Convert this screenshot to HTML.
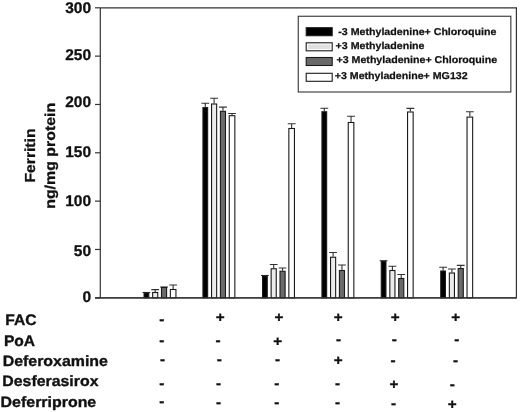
<!DOCTYPE html>
<html><head><meta charset="utf-8"><title>Ferritin chart</title>
<style>
html,body{margin:0;padding:0;background:#fff;}
body{width:520px;height:412px;overflow:hidden;}
svg{display:block;}
text{text-rendering:geometricPrecision;font-family:"Liberation Sans",Arial,Helvetica,sans-serif;font-weight:bold;fill:#111;stroke:#111;stroke-linejoin:round;}
</style></head><body>
<svg width="520" height="412" viewBox="0 0 520 412">
<rect x="0" y="0" width="520" height="412" fill="#fff"/>

<path d="M100.3 7.8 H516.4 V297.8 H95.3 M100.3 297.8 V7.8" fill="none" stroke="#333" stroke-width="1.2"/>
<line x1="95.0" y1="297.80" x2="100.3" y2="297.80" stroke="#333" stroke-width="1.2"/>
<text transform="translate(91.10,302.45) scale(1.0,1)" font-size="15.50" text-anchor="end" stroke-width="0.3">0</text>
<line x1="95.0" y1="249.47" x2="100.3" y2="249.47" stroke="#333" stroke-width="1.2"/>
<text transform="translate(91.10,256.15) scale(1.0,1)" font-size="15.50" text-anchor="end" stroke-width="0.3">50</text>
<line x1="95.0" y1="201.13" x2="100.3" y2="201.13" stroke="#333" stroke-width="1.2"/>
<text transform="translate(91.10,206.45) scale(1.0,1)" font-size="15.50" text-anchor="end" stroke-width="0.3">100</text>
<line x1="95.0" y1="152.80" x2="100.3" y2="152.80" stroke="#333" stroke-width="1.2"/>
<text transform="translate(91.10,157.15) scale(1.0,1)" font-size="15.50" text-anchor="end" stroke-width="0.3">150</text>
<line x1="95.0" y1="104.47" x2="100.3" y2="104.47" stroke="#333" stroke-width="1.2"/>
<text transform="translate(91.10,107.45) scale(1.0,1)" font-size="15.50" text-anchor="end" stroke-width="0.3">200</text>
<line x1="95.0" y1="56.13" x2="100.3" y2="56.13" stroke="#333" stroke-width="1.2"/>
<text transform="translate(91.10,60.15) scale(1.0,1)" font-size="15.50" text-anchor="end" stroke-width="0.3">250</text>
<line x1="95.0" y1="7.80" x2="100.3" y2="7.80" stroke="#333" stroke-width="1.2"/>
<text transform="translate(91.10,12.65) scale(1.0,1)" font-size="15.50" text-anchor="end" stroke-width="0.3">300</text>
<path d="M146.40 292.50 V292.50 M142.50 292.50 H150.30" stroke="#333" stroke-width="1.1" fill="none"/>
<rect x="144.05" y="293.00" width="4.70" height="4.80" fill="#000" stroke="#1a1a1a" stroke-width="1.1"/>
<path d="M155.20 292.00 V289.60 M151.30 289.60 H159.10" stroke="#333" stroke-width="1.1" fill="none"/>
<rect x="152.65" y="292.50" width="5.10" height="5.30" fill="#ececec" stroke="#1a1a1a" stroke-width="1.1"/>
<path d="M164.05 287.00 V287.00 M160.15 287.00 H167.95" stroke="#333" stroke-width="1.1" fill="none"/>
<rect x="161.50" y="287.50" width="5.10" height="10.30" fill="#6a6a6a" stroke="#1a1a1a" stroke-width="1.1"/>
<path d="M173.15 289.00 V285.00 M169.25 285.00 H177.05" stroke="#333" stroke-width="1.1" fill="none"/>
<rect x="170.35" y="289.50" width="5.60" height="8.30" fill="#fff" stroke="#1a1a1a" stroke-width="1.1"/>
<path d="M205.30 107.10 V103.30 M201.40 103.30 H209.20" stroke="#333" stroke-width="1.1" fill="none"/>
<rect x="202.95" y="107.60" width="4.70" height="190.20" fill="#000" stroke="#1a1a1a" stroke-width="1.1"/>
<path d="M214.10 103.50 V98.20 M210.20 98.20 H218.00" stroke="#333" stroke-width="1.1" fill="none"/>
<rect x="211.55" y="104.00" width="5.10" height="193.80" fill="#ececec" stroke="#1a1a1a" stroke-width="1.1"/>
<path d="M222.95 110.80 V107.10 M219.05 107.10 H226.85" stroke="#333" stroke-width="1.1" fill="none"/>
<rect x="220.40" y="111.30" width="5.10" height="186.50" fill="#6a6a6a" stroke="#1a1a1a" stroke-width="1.1"/>
<path d="M232.05 115.20 V113.50 M228.15 113.50 H235.95" stroke="#333" stroke-width="1.1" fill="none"/>
<rect x="229.25" y="115.70" width="5.60" height="182.10" fill="#fff" stroke="#1a1a1a" stroke-width="1.1"/>
<path d="M264.90 275.50 V275.50 M261.00 275.50 H268.80" stroke="#333" stroke-width="1.1" fill="none"/>
<rect x="262.55" y="276.00" width="4.70" height="21.80" fill="#000" stroke="#1a1a1a" stroke-width="1.1"/>
<path d="M273.70 268.25 V264.50 M269.80 264.50 H277.60" stroke="#333" stroke-width="1.1" fill="none"/>
<rect x="271.15" y="268.75" width="5.10" height="29.05" fill="#ececec" stroke="#1a1a1a" stroke-width="1.1"/>
<path d="M282.55 270.75 V268.00 M278.65 268.00 H286.45" stroke="#333" stroke-width="1.1" fill="none"/>
<rect x="280.00" y="271.25" width="5.10" height="26.55" fill="#6a6a6a" stroke="#1a1a1a" stroke-width="1.1"/>
<path d="M291.65 128.00 V123.75 M287.75 123.75 H295.55" stroke="#333" stroke-width="1.1" fill="none"/>
<rect x="288.85" y="128.50" width="5.60" height="169.30" fill="#fff" stroke="#1a1a1a" stroke-width="1.1"/>
<path d="M324.30 111.25 V108.25 M320.40 108.25 H328.20" stroke="#333" stroke-width="1.1" fill="none"/>
<rect x="321.95" y="111.75" width="4.70" height="186.05" fill="#000" stroke="#1a1a1a" stroke-width="1.1"/>
<path d="M333.10 256.75 V252.50 M329.20 252.50 H337.00" stroke="#333" stroke-width="1.1" fill="none"/>
<rect x="330.55" y="257.25" width="5.10" height="40.55" fill="#ececec" stroke="#1a1a1a" stroke-width="1.1"/>
<path d="M341.95 270.00 V265.00 M338.05 265.00 H345.85" stroke="#333" stroke-width="1.1" fill="none"/>
<rect x="339.40" y="270.50" width="5.10" height="27.30" fill="#6a6a6a" stroke="#1a1a1a" stroke-width="1.1"/>
<path d="M351.05 122.00 V116.25 M347.15 116.25 H354.95" stroke="#333" stroke-width="1.1" fill="none"/>
<rect x="348.25" y="122.50" width="5.60" height="175.30" fill="#fff" stroke="#1a1a1a" stroke-width="1.1"/>
<path d="M383.60 260.75 V260.75 M379.70 260.75 H387.50" stroke="#333" stroke-width="1.1" fill="none"/>
<rect x="381.25" y="261.25" width="4.70" height="36.55" fill="#000" stroke="#1a1a1a" stroke-width="1.1"/>
<path d="M392.40 270.00 V266.25 M388.50 266.25 H396.30" stroke="#333" stroke-width="1.1" fill="none"/>
<rect x="389.85" y="270.50" width="5.10" height="27.30" fill="#ececec" stroke="#1a1a1a" stroke-width="1.1"/>
<path d="M401.25 278.00 V274.50 M397.35 274.50 H405.15" stroke="#333" stroke-width="1.1" fill="none"/>
<rect x="398.70" y="278.50" width="5.10" height="19.30" fill="#6a6a6a" stroke="#1a1a1a" stroke-width="1.1"/>
<path d="M410.35 111.50 V108.40 M406.45 108.40 H414.25" stroke="#333" stroke-width="1.1" fill="none"/>
<rect x="407.55" y="112.00" width="5.60" height="185.80" fill="#fff" stroke="#1a1a1a" stroke-width="1.1"/>
<path d="M443.10 270.50 V267.20 M439.20 267.20 H447.00" stroke="#333" stroke-width="1.1" fill="none"/>
<rect x="440.75" y="271.00" width="4.70" height="26.80" fill="#000" stroke="#1a1a1a" stroke-width="1.1"/>
<path d="M451.90 272.50 V269.00 M448.00 269.00 H455.80" stroke="#333" stroke-width="1.1" fill="none"/>
<rect x="449.35" y="273.00" width="5.10" height="24.80" fill="#ececec" stroke="#1a1a1a" stroke-width="1.1"/>
<path d="M460.75 268.00 V265.40 M456.85 265.40 H464.65" stroke="#333" stroke-width="1.1" fill="none"/>
<rect x="458.20" y="268.50" width="5.10" height="29.30" fill="#6a6a6a" stroke="#1a1a1a" stroke-width="1.1"/>
<path d="M469.85 116.60 V111.80 M465.95 111.80 H473.75" stroke="#333" stroke-width="1.1" fill="none"/>
<rect x="467.05" y="117.10" width="5.60" height="180.70" fill="#fff" stroke="#1a1a1a" stroke-width="1.1"/>
<line x1="95.0" y1="297.8" x2="516.4" y2="297.8" stroke="#333" stroke-width="1.2"/>
<rect x="298.25" y="16.25" width="212.6" height="75.75" fill="#fff" stroke="#333" stroke-width="1.1"/>
<rect x="306.2" y="27.7" width="26" height="8" fill="#000" stroke="#1a1a1a" stroke-width="1.1"/>
<text transform="translate(338.30,34.70) scale(1.063,1)" font-size="10.00" stroke-width="0.25">-3 Methyladenine+ Chloroquine</text>
<rect x="306.2" y="42.8" width="26" height="8" fill="#fff" stroke="#1a1a1a" stroke-width="1.1"/>
<rect x="307.9" y="44.50" width="22.6" height="4.6" fill="#e0e0e0"/>
<text transform="translate(335.60,49.20) scale(1.063,1)" font-size="10.00" stroke-width="0.25">+3 Methyladenine</text>
<rect x="306.2" y="57.5" width="26" height="8" fill="#6a6a6a" stroke="#1a1a1a" stroke-width="1.1"/>
<text transform="translate(336.50,63.40) scale(1.063,1)" font-size="10.00" stroke-width="0.25">+3 Methyladenine+ Chloroquine</text>
<rect x="306.2" y="73.3" width="26" height="8" fill="#fff" stroke="#1a1a1a" stroke-width="1.1"/>
<text transform="translate(334.70,78.80) scale(1.063,1)" font-size="10.00" stroke-width="0.25">+3 Methyladenine+ MG132</text>
<text transform="translate(35.10,155.50) rotate(-90) scale(1.081,1)" font-size="14.50" text-anchor="middle" stroke-width="0.3">Ferritin</text>
<text transform="translate(55.40,155.80) rotate(-90) scale(1.105,1)" font-size="14.40" text-anchor="middle" stroke-width="0.3">ng/mg protein</text>
<text transform="translate(5.30,324.60) scale(1.02,1)" font-size="15.30" stroke-width="0.35">FAC</text>
<text transform="translate(3.90,345.50) scale(1.02,1)" font-size="15.30" stroke-width="0.35">PoA</text>
<text transform="translate(2.70,365.80) scale(1.068,1)" font-size="14.90" stroke-width="0.35">Deferoxamine</text>
<text transform="translate(2.30,385.70) scale(1.066,1)" font-size="14.90" stroke-width="0.35">Desferasirox</text>
<text transform="translate(0.60,406.50) scale(1.07,1)" font-size="14.90" stroke-width="0.35">Deferriprone</text>
<text transform="translate(159.16,323.94) scale(1.075,1)" font-size="14.20" stroke-width="0.35">-</text>
<text transform="translate(159.16,344.69) scale(1.075,1)" font-size="14.20" stroke-width="0.35">-</text>
<text transform="translate(159.91,363.94) scale(1.075,1)" font-size="14.20" stroke-width="0.35">-</text>
<text transform="translate(159.16,387.69) scale(1.075,1)" font-size="14.20" stroke-width="0.35">-</text>
<text transform="translate(159.16,406.19) scale(1.075,1)" font-size="14.20" stroke-width="0.35">-</text>
<text transform="translate(215.64,322.41) scale(1.075,1)" font-size="14.20" stroke-width="0.35">+</text>
<text transform="translate(215.41,344.69) scale(1.075,1)" font-size="14.20" stroke-width="0.35">-</text>
<text transform="translate(216.66,364.44) scale(1.075,1)" font-size="14.20" stroke-width="0.35">-</text>
<text transform="translate(215.91,388.19) scale(1.075,1)" font-size="14.20" stroke-width="0.35">-</text>
<text transform="translate(215.91,406.94) scale(1.075,1)" font-size="14.20" stroke-width="0.35">-</text>
<text transform="translate(274.39,322.41) scale(1.075,1)" font-size="14.20" stroke-width="0.35">+</text>
<text transform="translate(273.14,346.26) scale(1.075,1)" font-size="14.20" stroke-width="0.35">+</text>
<text transform="translate(274.91,364.44) scale(1.075,1)" font-size="14.20" stroke-width="0.35">-</text>
<text transform="translate(274.16,387.69) scale(1.075,1)" font-size="14.20" stroke-width="0.35">-</text>
<text transform="translate(274.16,406.94) scale(1.075,1)" font-size="14.20" stroke-width="0.35">-</text>
<text transform="translate(333.64,322.41) scale(1.075,1)" font-size="14.20" stroke-width="0.35">+</text>
<text transform="translate(335.91,343.94) scale(1.075,1)" font-size="14.20" stroke-width="0.35">-</text>
<text transform="translate(333.64,364.91) scale(1.075,1)" font-size="14.20" stroke-width="0.35">+</text>
<text transform="translate(334.91,388.44) scale(1.075,1)" font-size="14.20" stroke-width="0.35">-</text>
<text transform="translate(334.91,407.19) scale(1.075,1)" font-size="14.20" stroke-width="0.35">-</text>
<text transform="translate(390.64,322.41) scale(1.075,1)" font-size="14.20" stroke-width="0.35">+</text>
<text transform="translate(391.66,343.94) scale(1.075,1)" font-size="14.20" stroke-width="0.35">-</text>
<text transform="translate(390.41,364.69) scale(1.075,1)" font-size="14.20" stroke-width="0.35">-</text>
<text transform="translate(389.39,388.66) scale(1.075,1)" font-size="14.20" stroke-width="0.35">+</text>
<text transform="translate(390.91,408.19) scale(1.075,1)" font-size="14.20" stroke-width="0.35">-</text>
<text transform="translate(451.14,322.41) scale(1.075,1)" font-size="14.20" stroke-width="0.35">+</text>
<text transform="translate(454.16,343.94) scale(1.075,1)" font-size="14.20" stroke-width="0.35">-</text>
<text transform="translate(452.91,364.69) scale(1.075,1)" font-size="14.20" stroke-width="0.35">-</text>
<text transform="translate(449.66,388.94) scale(1.075,1)" font-size="14.20" stroke-width="0.35">-</text>
<text transform="translate(447.64,408.66) scale(1.075,1)" font-size="14.20" stroke-width="0.35">+</text>
</svg></body></html>
